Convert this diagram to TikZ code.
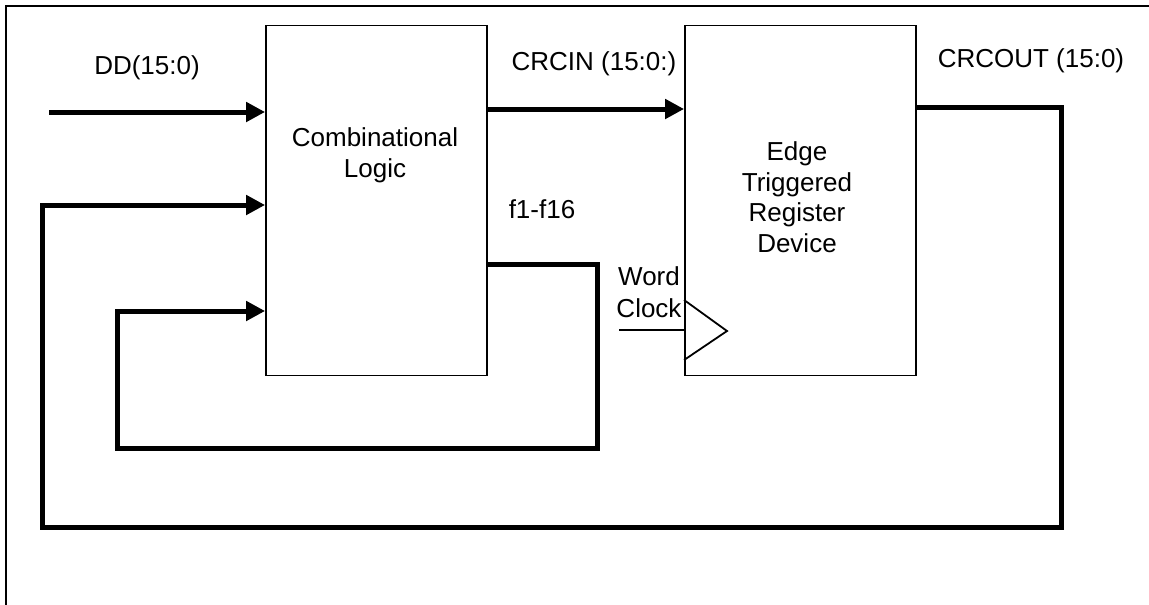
\documentclass[tikz,border=0pt]{standalone}
\usepackage{fontspec}
\setmainfont{Liberation Sans}
\usetikzlibrary{arrows.meta}
\begin{document}
\begin{tikzpicture}[x=1pt,y=-1pt,
  txt/.style={font=\fontsize{26}{30.5}\selectfont, inner sep=0pt, align=center},
  blockbox/.style={draw, line width=1.8pt, minimum height=350pt, inner sep=0pt},
  busarrow/.style={line width=5pt, -{Triangle[length=19pt,width=19pt]}},
  wire/.style={line width=1.8pt}]
\useasboundingbox (0,0) rectangle (1149,605);
% frame
\draw[line width=2pt] (6,605) -- (6,6) -- (1149,6);
% blocks
\node[blockbox, minimum width=221pt] (comb) at (376.5,200.5) {};
\node[blockbox, minimum width=231pt] (reg) at (800.5,200.5) {};
% texts (base anchor = baseline of last line)
\node[txt, anchor=base] (combtxt) at (375,177) {Combinational\\Logic};
\node[txt, anchor=base] (regtxt) at (797,252) {Edge\\Triggered\\Register\\Device};
\node[txt, anchor=base] (ddlbl) at (147,74) {DD(15:0)};
\node[txt, anchor=base] (crcinlbl) at (594,70) {CRCIN (15:0:)};
\node[txt, anchor=base] (crcoutlbl) at (1031,67) {CRCOUT (15:0)};
\node[txt, anchor=base] (flbl) at (542,218) {f1-f16};
\node[txt, anchor=base, font=\fontsize{26}{32}\selectfont] (clklbl) at (649,317) {Word\\Clock};
% coordinates
\coordinate (dd) at (49,112);
\coordinate (ci) at (487,109);
\coordinate (c1) at (597,264);
\coordinate (c2) at (597,448);
\coordinate (c3) at (117,448);
\coordinate (c4) at (117,311);
\coordinate (o1) at (1061,107);
\coordinate (o2) at (1061,527);
\coordinate (o3) at (42,527);
\coordinate (o4) at (42,205);
\coordinate (clk) at (619,330);
\coordinate (t1) at (685,300);
\coordinate (t2) at (727,331);
\coordinate (t3) at (685,360);
% connectors
\draw[busarrow] (dd) -- (dd -| comb.west);
\draw[busarrow] (comb.east |- ci) -- (ci -| reg.west);
\draw[busarrow] (comb.east |- c1) -- (c1) -- (c2) -- (c3) -- (c4) -- (c4 -| comb.west);
\draw[busarrow] (reg.east |- o1) -- (o1) -- (o2) -- (o3) -- (o4) -- (o4 -| comb.west);
% clock
\draw[wire] (clk) -- (clk -| reg.west);
\draw[wire] (reg.west |- t1) -- (t2) -- (reg.west |- t3);
\end{tikzpicture}
\end{document}
